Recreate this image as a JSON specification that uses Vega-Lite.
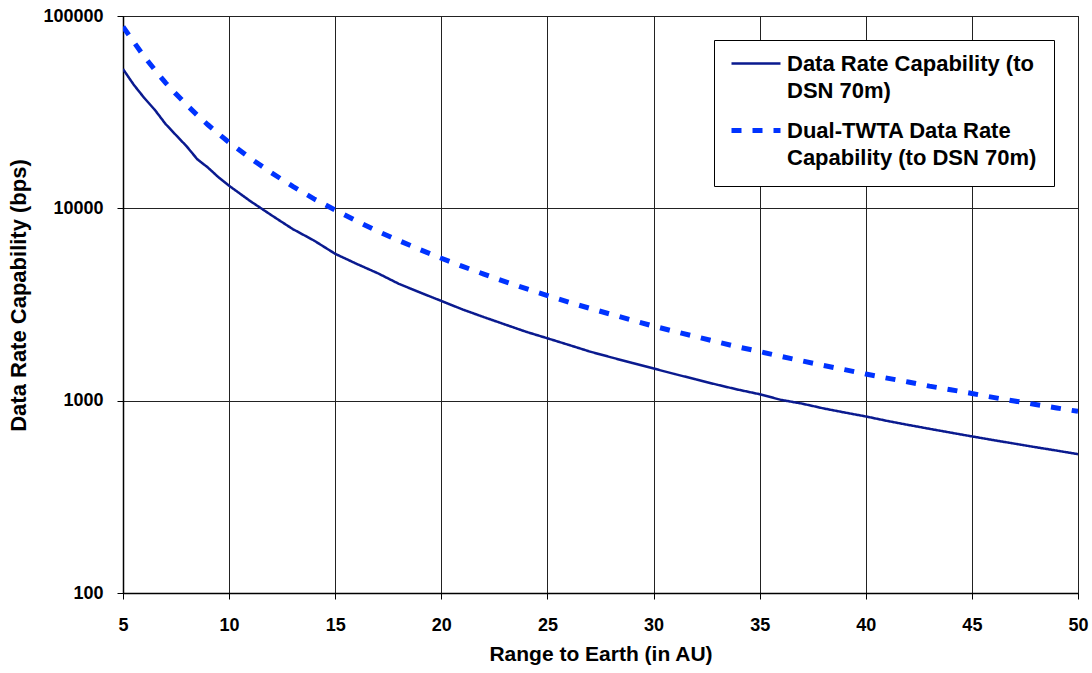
{
  "$schema": "https://vega.github.io/schema/vega-lite/v6.json",
  "width": 955,
  "height": 577,
  "autosize": {"type": "none"},
  "padding": {"left": 123, "top": 16, "right": 14, "bottom": 80},
  "background": "white",
  "data": {"values": [
    {"s": "Data Rate Capability (to DSN 70m)", "r": 5, "v": 53000},
    {"s": "Data Rate Capability (to DSN 70m)", "r": 5.5, "v": 44000},
    {"s": "Data Rate Capability (to DSN 70m)", "r": 6, "v": 37500},
    {"s": "Data Rate Capability (to DSN 70m)", "r": 6.5, "v": 32500},
    {"s": "Data Rate Capability (to DSN 70m)", "r": 7, "v": 27500},
    {"s": "Data Rate Capability (to DSN 70m)", "r": 7.5, "v": 24000},
    {"s": "Data Rate Capability (to DSN 70m)", "r": 8, "v": 21000},
    {"s": "Data Rate Capability (to DSN 70m)", "r": 8.5, "v": 18000},
    {"s": "Data Rate Capability (to DSN 70m)", "r": 9, "v": 16300},
    {"s": "Data Rate Capability (to DSN 70m)", "r": 9.5, "v": 14500},
    {"s": "Data Rate Capability (to DSN 70m)", "r": 10, "v": 13100},
    {"s": "Data Rate Capability (to DSN 70m)", "r": 11, "v": 10900},
    {"s": "Data Rate Capability (to DSN 70m)", "r": 12, "v": 9200},
    {"s": "Data Rate Capability (to DSN 70m)", "r": 13, "v": 7800},
    {"s": "Data Rate Capability (to DSN 70m)", "r": 14, "v": 6800},
    {"s": "Data Rate Capability (to DSN 70m)", "r": 15, "v": 5800},
    {"s": "Data Rate Capability (to DSN 70m)", "r": 16, "v": 5150},
    {"s": "Data Rate Capability (to DSN 70m)", "r": 17, "v": 4600},
    {"s": "Data Rate Capability (to DSN 70m)", "r": 18, "v": 4050},
    {"s": "Data Rate Capability (to DSN 70m)", "r": 19, "v": 3650},
    {"s": "Data Rate Capability (to DSN 70m)", "r": 20, "v": 3300},
    {"s": "Data Rate Capability (to DSN 70m)", "r": 21, "v": 2980},
    {"s": "Data Rate Capability (to DSN 70m)", "r": 22, "v": 2720},
    {"s": "Data Rate Capability (to DSN 70m)", "r": 23, "v": 2490},
    {"s": "Data Rate Capability (to DSN 70m)", "r": 24, "v": 2280},
    {"s": "Data Rate Capability (to DSN 70m)", "r": 25, "v": 2110},
    {"s": "Data Rate Capability (to DSN 70m)", "r": 26, "v": 1950},
    {"s": "Data Rate Capability (to DSN 70m)", "r": 27, "v": 1800},
    {"s": "Data Rate Capability (to DSN 70m)", "r": 28, "v": 1680},
    {"s": "Data Rate Capability (to DSN 70m)", "r": 29, "v": 1570},
    {"s": "Data Rate Capability (to DSN 70m)", "r": 30, "v": 1470},
    {"s": "Data Rate Capability (to DSN 70m)", "r": 31, "v": 1375},
    {"s": "Data Rate Capability (to DSN 70m)", "r": 32, "v": 1290},
    {"s": "Data Rate Capability (to DSN 70m)", "r": 33, "v": 1210},
    {"s": "Data Rate Capability (to DSN 70m)", "r": 34, "v": 1140},
    {"s": "Data Rate Capability (to DSN 70m)", "r": 35, "v": 1080},
    {"s": "Data Rate Capability (to DSN 70m)", "r": 36, "v": 1010},
    {"s": "Data Rate Capability (to DSN 70m)", "r": 37, "v": 965},
    {"s": "Data Rate Capability (to DSN 70m)", "r": 38, "v": 912},
    {"s": "Data Rate Capability (to DSN 70m)", "r": 39, "v": 868},
    {"s": "Data Rate Capability (to DSN 70m)", "r": 40, "v": 828},
    {"s": "Data Rate Capability (to DSN 70m)", "r": 41, "v": 785},
    {"s": "Data Rate Capability (to DSN 70m)", "r": 42, "v": 748},
    {"s": "Data Rate Capability (to DSN 70m)", "r": 43, "v": 714},
    {"s": "Data Rate Capability (to DSN 70m)", "r": 44, "v": 682},
    {"s": "Data Rate Capability (to DSN 70m)", "r": 45, "v": 652},
    {"s": "Data Rate Capability (to DSN 70m)", "r": 46, "v": 624},
    {"s": "Data Rate Capability (to DSN 70m)", "r": 47, "v": 598},
    {"s": "Data Rate Capability (to DSN 70m)", "r": 48, "v": 573},
    {"s": "Data Rate Capability (to DSN 70m)", "r": 49, "v": 550},
    {"s": "Data Rate Capability (to DSN 70m)", "r": 50, "v": 527},
    {"s": "Dual-TWTA Data Rate Capability (to DSN 70m)", "r": 5, "v": 88000},
    {"s": "Dual-TWTA Data Rate Capability (to DSN 70m)", "r": 5.5, "v": 73500},
    {"s": "Dual-TWTA Data Rate Capability (to DSN 70m)", "r": 6, "v": 61500},
    {"s": "Dual-TWTA Data Rate Capability (to DSN 70m)", "r": 6.5, "v": 52500},
    {"s": "Dual-TWTA Data Rate Capability (to DSN 70m)", "r": 7, "v": 45000},
    {"s": "Dual-TWTA Data Rate Capability (to DSN 70m)", "r": 7.5, "v": 39300},
    {"s": "Dual-TWTA Data Rate Capability (to DSN 70m)", "r": 8, "v": 34500},
    {"s": "Dual-TWTA Data Rate Capability (to DSN 70m)", "r": 8.5, "v": 30500},
    {"s": "Dual-TWTA Data Rate Capability (to DSN 70m)", "r": 9, "v": 27200},
    {"s": "Dual-TWTA Data Rate Capability (to DSN 70m)", "r": 9.5, "v": 24400},
    {"s": "Dual-TWTA Data Rate Capability (to DSN 70m)", "r": 10, "v": 22000},
    {"s": "Dual-TWTA Data Rate Capability (to DSN 70m)", "r": 11, "v": 18200},
    {"s": "Dual-TWTA Data Rate Capability (to DSN 70m)", "r": 12, "v": 15300},
    {"s": "Dual-TWTA Data Rate Capability (to DSN 70m)", "r": 13, "v": 13000},
    {"s": "Dual-TWTA Data Rate Capability (to DSN 70m)", "r": 14, "v": 11200},
    {"s": "Dual-TWTA Data Rate Capability (to DSN 70m)", "r": 15, "v": 9800},
    {"s": "Dual-TWTA Data Rate Capability (to DSN 70m)", "r": 16, "v": 8600},
    {"s": "Dual-TWTA Data Rate Capability (to DSN 70m)", "r": 17, "v": 7600},
    {"s": "Dual-TWTA Data Rate Capability (to DSN 70m)", "r": 18, "v": 6800},
    {"s": "Dual-TWTA Data Rate Capability (to DSN 70m)", "r": 19, "v": 6100},
    {"s": "Dual-TWTA Data Rate Capability (to DSN 70m)", "r": 20, "v": 5500},
    {"s": "Dual-TWTA Data Rate Capability (to DSN 70m)", "r": 21, "v": 4990},
    {"s": "Dual-TWTA Data Rate Capability (to DSN 70m)", "r": 22, "v": 4550},
    {"s": "Dual-TWTA Data Rate Capability (to DSN 70m)", "r": 23, "v": 4160},
    {"s": "Dual-TWTA Data Rate Capability (to DSN 70m)", "r": 24, "v": 3820},
    {"s": "Dual-TWTA Data Rate Capability (to DSN 70m)", "r": 25, "v": 3520},
    {"s": "Dual-TWTA Data Rate Capability (to DSN 70m)", "r": 26, "v": 3250},
    {"s": "Dual-TWTA Data Rate Capability (to DSN 70m)", "r": 27, "v": 3020},
    {"s": "Dual-TWTA Data Rate Capability (to DSN 70m)", "r": 28, "v": 2810},
    {"s": "Dual-TWTA Data Rate Capability (to DSN 70m)", "r": 29, "v": 2620},
    {"s": "Dual-TWTA Data Rate Capability (to DSN 70m)", "r": 30, "v": 2440},
    {"s": "Dual-TWTA Data Rate Capability (to DSN 70m)", "r": 31, "v": 2290},
    {"s": "Dual-TWTA Data Rate Capability (to DSN 70m)", "r": 32, "v": 2150},
    {"s": "Dual-TWTA Data Rate Capability (to DSN 70m)", "r": 33, "v": 2020},
    {"s": "Dual-TWTA Data Rate Capability (to DSN 70m)", "r": 34, "v": 1900},
    {"s": "Dual-TWTA Data Rate Capability (to DSN 70m)", "r": 35, "v": 1800},
    {"s": "Dual-TWTA Data Rate Capability (to DSN 70m)", "r": 36, "v": 1700},
    {"s": "Dual-TWTA Data Rate Capability (to DSN 70m)", "r": 37, "v": 1610},
    {"s": "Dual-TWTA Data Rate Capability (to DSN 70m)", "r": 38, "v": 1525},
    {"s": "Dual-TWTA Data Rate Capability (to DSN 70m)", "r": 39, "v": 1450},
    {"s": "Dual-TWTA Data Rate Capability (to DSN 70m)", "r": 40, "v": 1375},
    {"s": "Dual-TWTA Data Rate Capability (to DSN 70m)", "r": 41, "v": 1310},
    {"s": "Dual-TWTA Data Rate Capability (to DSN 70m)", "r": 42, "v": 1250},
    {"s": "Dual-TWTA Data Rate Capability (to DSN 70m)", "r": 43, "v": 1190},
    {"s": "Dual-TWTA Data Rate Capability (to DSN 70m)", "r": 44, "v": 1140},
    {"s": "Dual-TWTA Data Rate Capability (to DSN 70m)", "r": 45, "v": 1090},
    {"s": "Dual-TWTA Data Rate Capability (to DSN 70m)", "r": 46, "v": 1040},
    {"s": "Dual-TWTA Data Rate Capability (to DSN 70m)", "r": 47, "v": 996},
    {"s": "Dual-TWTA Data Rate Capability (to DSN 70m)", "r": 48, "v": 955},
    {"s": "Dual-TWTA Data Rate Capability (to DSN 70m)", "r": 49, "v": 916},
    {"s": "Dual-TWTA Data Rate Capability (to DSN 70m)", "r": 50, "v": 880}
  ]},
  "mark": {"type": "line", "clip": true},
  "encoding": {
    "x": {
      "field": "r", "type": "quantitative",
      "scale": {"domain": [5, 50], "nice": false, "zero": false},
      "axis": {"values": [5, 10, 15, 20, 25, 30, 35, 40, 45, 50], "title": "Range to Earth (in AU)", "labelPadding": 17, "titlePadding": 9}
    },
    "y": {
      "field": "v", "type": "quantitative",
      "scale": {"type": "log", "domain": [100, 100000], "nice": false},
      "axis": {"values": [100, 1000, 10000, 100000], "format": "d", "title": "Data Rate Capability (bps)", "labelPadding": 14, "titlePadding": 12, "titleFontSize": 22, "titleY": 279}
    },
    "color": {
      "field": "s", "type": "nominal",
      "scale": {"domain": ["Data Rate Capability (to DSN 70m)", "Dual-TWTA Data Rate Capability (to DSN 70m)"], "range": ["#0a1a8f", "#0033ff"]},
      "legend": {
        "title": null, "orient": "none", "legendX": 591, "legendY": 24,
        "labelExpr": "datum.value == 'Data Rate Capability (to DSN 70m)' ? ['Data Rate Capability (to', 'DSN 70m)'] : ['Dual-TWTA Data Rate', 'Capability (to DSN 70m)\u00a0\u00a0\u00a0']",
        "labelBaseline": "top",
        "encode": {"labels": {"update": {"lineHeight": {"value": 27}, "y": {"value": -3}}}, "symbols": {"update": {"y": {"value": 6.5}}}}
      }
    },
    "strokeDash": {
      "field": "s", "type": "nominal",
      "scale": {"domain": ["Data Rate Capability (to DSN 70m)", "Dual-TWTA Data Rate Capability (to DSN 70m)"], "range": [[1, 0], [10, 11]]},
      "legend": {"title": null, "orient": "none", "legendX": 591, "legendY": 24,
        "labelExpr": "datum.value == 'Data Rate Capability (to DSN 70m)' ? ['Data Rate Capability (to', 'DSN 70m)'] : ['Dual-TWTA Data Rate', 'Capability (to DSN 70m)\u00a0\u00a0\u00a0']",
        "labelBaseline": "top",
        "encode": {"labels": {"update": {"lineHeight": {"value": 27}, "y": {"value": -3}}}, "symbols": {"update": {"y": {"value": 6.5}}}}}
    },
    "strokeWidth": {
      "field": "s", "type": "nominal",
      "scale": {"domain": ["Data Rate Capability (to DSN 70m)", "Dual-TWTA Data Rate Capability (to DSN 70m)"], "range": [2.5, 5]},
      "legend": {"title": null, "orient": "none", "legendX": 591, "legendY": 24,
        "labelExpr": "datum.value == 'Data Rate Capability (to DSN 70m)' ? ['Data Rate Capability (to', 'DSN 70m)'] : ['Dual-TWTA Data Rate', 'Capability (to DSN 70m)\u00a0\u00a0\u00a0']",
        "labelBaseline": "top",
        "encode": {"labels": {"update": {"lineHeight": {"value": 27}, "y": {"value": -3}}}, "symbols": {"update": {"y": {"value": 6.5}}}}}
    }
  },
  "config": {
    "font": "Liberation Sans",
    "view": {"stroke": "#000", "strokeWidth": 1},
    "axis": {
      "domainColor": "#000", "domainWidth": 1.5,
      "tickColor": "#000", "tickSize": 6, "tickWidth": 1,
      "gridColor": "#222", "gridWidth": 1, "gridOpacity": 1, "grid": true,
      "labelFont": "Liberation Sans", "labelFontSize": 18, "labelFontWeight": "bold", "labelColor": "#000",
      "titleFont": "Liberation Sans", "titleFontSize": 21, "titleFontWeight": "bold", "titleColor": "#000",
      "labelOverlap": false, "labelFlush": false
    },
    "legend": {
      "symbolType": "stroke", "symbolSize": 2401, "symbolStrokeWidth": 2.5,
      "labelFont": "Liberation Sans", "labelFontSize": 22, "labelFontWeight": "bold", "labelColor": "#000",
      "labelLimit": 500, "labelOffset": 4,
      "strokeColor": "#000", "fillColor": "white", "padding": 17, "rowPadding": 18,
      "symbolOffset": -2
    }
  }
}
